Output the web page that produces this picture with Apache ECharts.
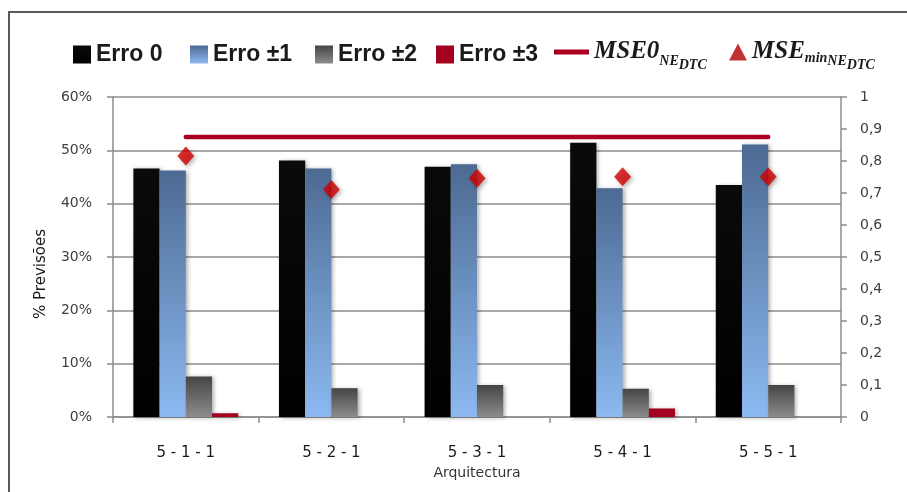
<!DOCTYPE html>
<html>
<head>
<meta charset="utf-8">
<script src="https://cdn.jsdelivr.net/npm/echarts@6/dist/echarts.min.js"></script>
<style>
  html, body { margin: 0; padding: 0; background: #fff; }
  #chart { width: 907px; height: 492px; }
</style>
</head>
<body>
<div id="chart"></div>
<script>
// Architectures tested
const categories = ['5 - 1 - 1', '5 - 2 - 1', '5 - 3 - 1', '5 - 4 - 1', '5 - 5 - 1'];

// Share of predictions (%) by error size
const erro0 = [46.6, 48.1, 46.9, 51.4, 43.5];
const erro1 = [46.2, 46.6, 47.4, 42.9, 51.1];
const erro2 = [7.6, 5.4, 6.0, 5.3, 6.0];
const erro3 = [0.7, 0, 0, 1.6, 0];

// MSE values (right axis)
const mse0 = [0.875, 0.875, 0.875, 0.875, 0.875];
const mseMin = [0.816, 0.711, 0.746, 0.751, 0.751];

// Axis ticks
const leftTicks = { min: 0, max: 60, interval: 10 };
const rightTicks = { min: 0, max: 1, interval: 0.1 };

const barFont = "'Liberation Sans', Arial, sans-serif";
const mathFont = "'Liberation Serif', 'DejaVu Serif', serif";
const axisFont = "'DejaVu Sans', 'Open Sans', sans-serif";

const vgrad = (top, bottom) => new echarts.graphic.LinearGradient(0, 0, 0, 1, [
  { offset: 0, color: top }, { offset: 1, color: bottom }
]);

const barShadow = { shadowBlur: 4, shadowOffsetX: 2, shadowOffsetY: 1, shadowColor: 'rgba(0,0,0,0.3)' };

const mathRich = {
  m: { fontFamily: mathFont, fontStyle: 'italic', fontWeight: 'bold', fontSize: 25, lineHeight: 26, color: '#1a1a1a', verticalAlign: 'top' },
  s1: { fontFamily: mathFont, fontStyle: 'italic', fontWeight: 'bold', fontSize: 14, lineHeight: 15, color: '#1a1a1a', verticalAlign: 'top', padding: [12, 0, 0, 0] },
  s2: { fontFamily: mathFont, fontStyle: 'italic', fontWeight: 'bold', fontSize: 14, lineHeight: 15, color: '#1a1a1a', verticalAlign: 'top', padding: [15, 0, 0, 0] },
  s3: { fontFamily: mathFont, fontStyle: 'italic', fontWeight: 'bold', fontSize: 14, lineHeight: 15, color: '#1a1a1a', verticalAlign: 'top', padding: [19, 0, 0, 0] }
};

// One legend entry per block so every key sits at its own place
const barLegend = (name, left) => ({
  data: [name],
  left: left, top: 38,
  itemWidth: 18, itemHeight: 18,
  icon: 'rect',
  textStyle: { fontFamily: barFont, fontWeight: 'bold', fontSize: 23, color: '#1a1a1a', padding: [0, 0, 0, 0] }
});

const chart = echarts.init(document.getElementById('chart'), null, { renderer: 'canvas' });

chart.setOption({
  animation: false,
  backgroundColor: '#fff',
  graphic: [{
    type: 'rect',
    shape: { x: 9, y: 12, width: 1000, height: 600 },
    style: { fill: 'none', stroke: '#5a5a5a', lineWidth: 2 },
    silent: true
  }],
  legend: [
    barLegend('Erro 0', 68),
    barLegend('Erro ±1', 185),
    barLegend('Erro ±2', 310),
    barLegend('Erro ±3', 431),
    {
      data: [{ name: 'MSE0', icon: 'rect' }],
      left: 549, top: 34,
      itemWidth: 35, itemHeight: 5,
      formatter: () => '{m|MSE0}{s2|NE}{s3|DTC}',
      textStyle: { rich: mathRich }
    },
    {
      data: [{ name: 'MSEmin', icon: 'triangle', itemStyle: { color: '#b00000' } }],
      left: 724, top: 34,
      itemWidth: 18, itemHeight: 17,
      formatter: () => '{m|MSE}{s1|min}{s2|NE}{s3|DTC}',
      textStyle: { rich: mathRich }
    }
  ],
  grid: { left: 113, right: 66, top: 97, bottom: 75, containLabel: false },
  xAxis: {
    type: 'category',
    data: categories,
    name: 'Arquitectura',
    nameLocation: 'middle',
    nameGap: 46,
    nameTextStyle: { fontFamily: axisFont, fontSize: 14, color: '#333' },
    axisLine: { lineStyle: { color: '#8c8c8c', width: 1.5 } },
    axisTick: { show: true, length: 6, alignWithLabel: false, lineStyle: { color: '#8c8c8c', width: 1.5 } },
    axisLabel: { fontFamily: axisFont, fontSize: 15, color: '#1a1a1a', margin: 29 }
  },
  yAxis: [
    {
      type: 'value',
      min: leftTicks.min, max: leftTicks.max, interval: leftTicks.interval,
      name: '% Previsões',
      nameLocation: 'middle',
      nameGap: 64,
      nameTextStyle: { fontFamily: axisFont, fontSize: 15, color: '#1a1a1a', padding: [0, 34, 0, 0] },
      axisLine: { show: true, lineStyle: { color: '#8c8c8c', width: 1.5 } },
      axisTick: { show: true, length: 6, lineStyle: { color: '#8c8c8c', width: 1.5 } },
      axisLabel: { fontFamily: axisFont, fontSize: 14, color: '#404040', margin: 21, formatter: '{value}%' },
      splitLine: { show: true, lineStyle: { color: '#8c8c8c', width: 1.5 } }
    },
    {
      type: 'value',
      min: rightTicks.min, max: rightTicks.max, interval: rightTicks.interval,
      position: 'right',
      axisLine: { show: true, lineStyle: { color: '#8c8c8c', width: 1.5 } },
      axisTick: { show: true, length: 6, lineStyle: { color: '#8c8c8c', width: 1.5 } },
      axisLabel: {
        fontFamily: axisFont, fontSize: 14, color: '#404040', margin: 19,
        formatter: v => String(Math.round(v * 10) / 10).replace('.', ',')
      },
      splitLine: { show: false }
    }
  ],
  series: [
    {
      name: 'Erro 0', type: 'bar', data: erro0, yAxisIndex: 0,
      barGap: '0%', barCategoryGap: '28%',
      itemStyle: Object.assign({ color: vgrad('#0a0a0a', '#000000') }, barShadow)
    },
    {
      name: 'Erro ±1', type: 'bar', data: erro1, yAxisIndex: 0,
      barGap: '0%', barCategoryGap: '28%',
      itemStyle: Object.assign({ color: vgrad('#4c6a92', '#8cb9f1') }, barShadow)
    },
    {
      name: 'Erro ±2', type: 'bar', data: erro2, yAxisIndex: 0,
      barGap: '0%', barCategoryGap: '28%',
      itemStyle: Object.assign({ color: vgrad('#454545', '#8c8c8c') }, barShadow)
    },
    {
      name: 'Erro ±3', type: 'bar', data: erro3, yAxisIndex: 0,
      barGap: '0%', barCategoryGap: '28%',
      itemStyle: Object.assign({ color: '#a4001f' }, barShadow)
    },
    {
      name: 'MSE0', type: 'line', data: mse0, yAxisIndex: 1,
      symbol: 'none', color: '#a8001f',
      lineStyle: { color: '#a8001f', width: 4.5, cap: 'round' },
      z: 3
    },
    {
      name: 'MSEmin', type: 'scatter', data: mseMin, yAxisIndex: 1,
      symbol: 'diamond', symbolSize: [17, 19], color: '#d00000',
      itemStyle: { color: '#d00000', shadowBlur: 4, shadowOffsetX: 2, shadowOffsetY: 2, shadowColor: 'rgba(0,0,0,0.35)' },
      z: 4
    }
  ]
});
</script>
</body>
</html>
